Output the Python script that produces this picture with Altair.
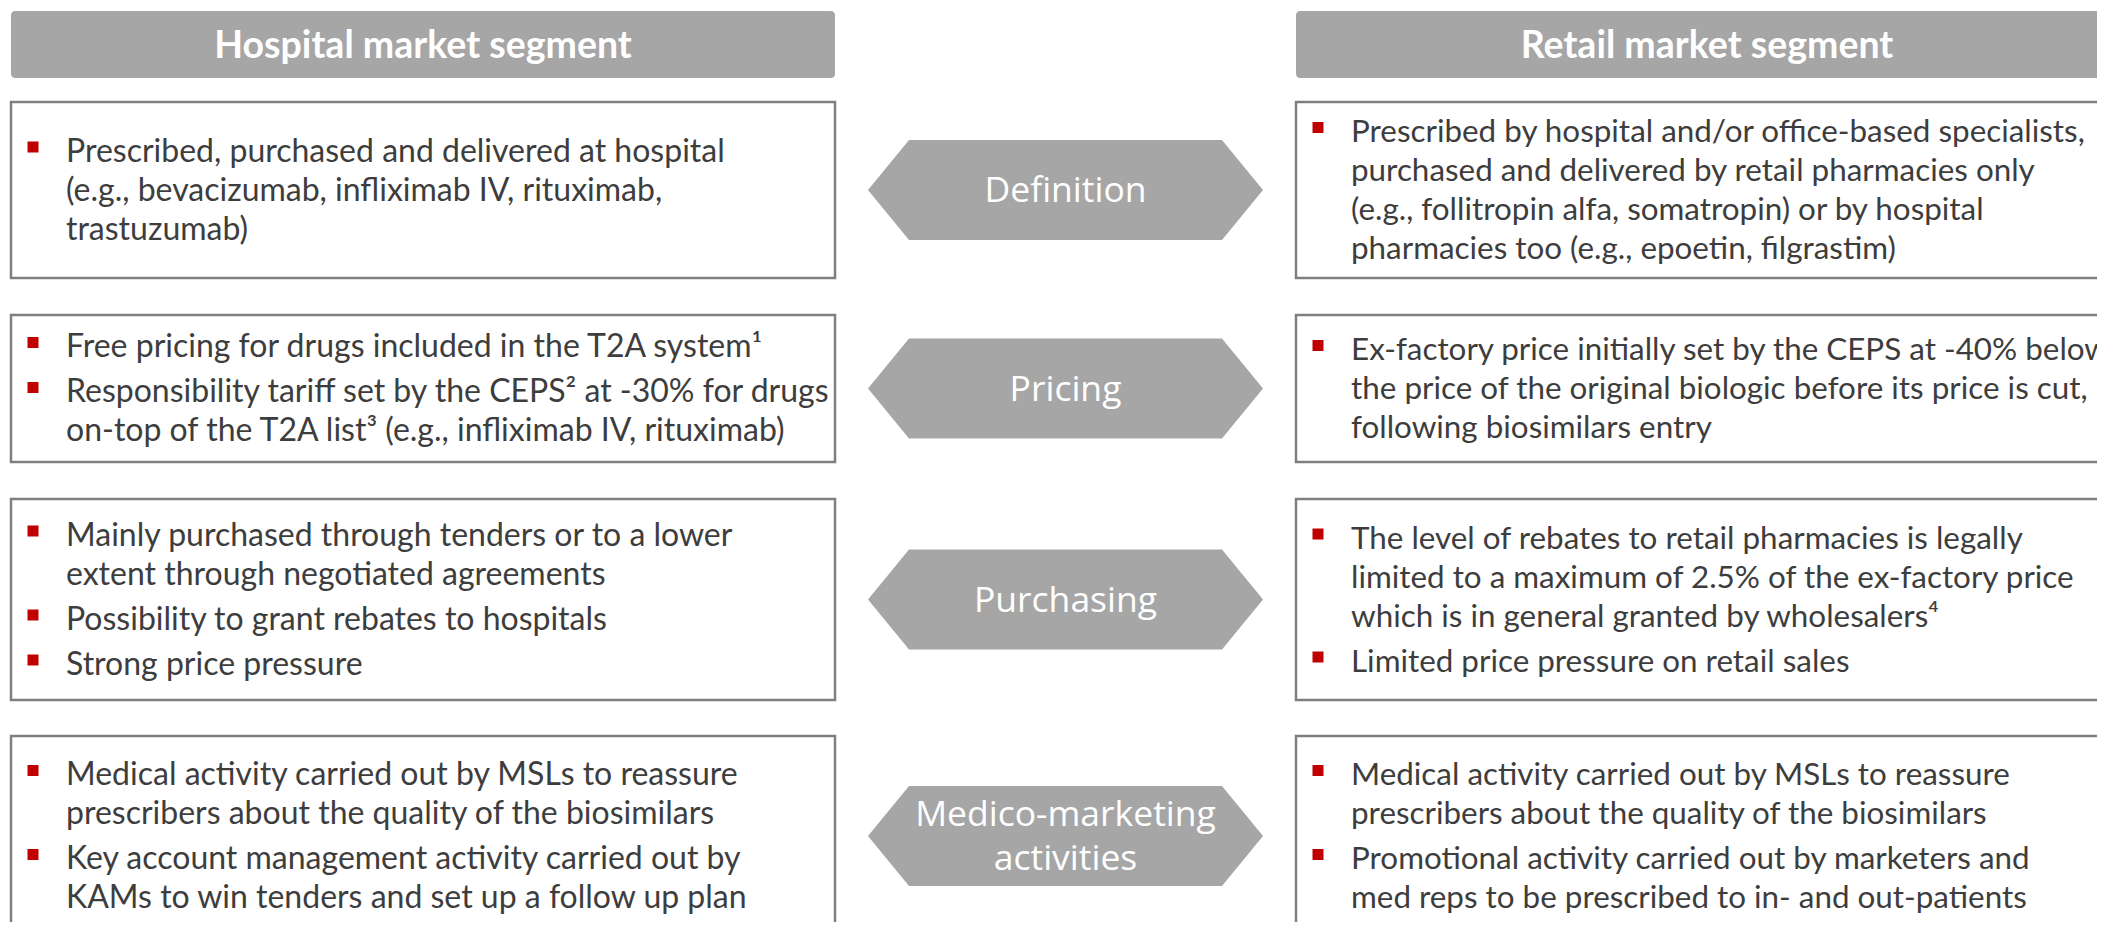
import altair as alt
import pandas as pd

# ---------------- content ----------------
headers = ["Hospital market segment", "Retail market segment"]
dimensions = [["Definition"], ["Pricing"], ["Purchasing"], ["Medico-marketing", "activities"]]

hospital = [
    [["Prescribed, purchased and delivered at hospital",
      "(e.g., bevacizumab, infliximab IV, rituximab,",
      "trastuzumab)"]],
    [["Free pricing for drugs included in the T2A system¹"],
     ["Responsibility tariff set by the CEPS² at -30% for drugs",
      "on-top of the T2A list³ (e.g., infliximab IV, rituximab)"]],
    [["Mainly purchased through tenders or to a lower",
      "extent through negotiated agreements"],
     ["Possibility to grant rebates to hospitals"],
     ["Strong price pressure"]],
    [["Medical activity carried out by MSLs to reassure",
      "prescribers about the quality of the biosimilars"],
     ["Key account management activity carried out by",
      "KAMs to win tenders and set up a follow up plan"]],
]

retail = [
    [["Prescribed by hospital and/or office-based specialists,",
      "purchased and delivered by retail pharmacies only",
      "(e.g., follitropin alfa, somatropin) or by hospital",
      "pharmacies too (e.g., epoetin, filgrastim)"]],
    [["Ex-factory price initially set by the CEPS at -40% below",
      "the price of the original biologic before its price is cut,",
      "following biosimilars entry"]],
    [["The level of rebates to retail pharmacies is legally",
      "limited to a maximum of 2.5% of the ex-factory price",
      "which is in general granted by wholesalers⁴"],
     ["Limited price pressure on retail sales"]],
    [["Medical activity carried out by MSLs to reassure",
      "prescribers about the quality of the biosimilars"],
     ["Promotional activity carried out by marketers and",
      "med reps to be prescribed to in- and out-patients"]],
]

# ---------------- layout (page pixel coordinates) ----------------
col_left = [(11, 835), (1296, 2118)]
col_font = [32, 31.4]
header_y = (11, 78)
header_base = 58
row_top = [102, 315, 499, 736]
row_bot = [278, 462, 700, 936]
hex_x = (868, 909, 1222, 1263)
hex_half = 50
LS, GAP, CAPH = 39, 6, 21
TEXT_OFF, BUL_OFF, BUL = 55, 22, 11

GREY = "#A6A6A6"
BORDER = "#7F7F7F"
TXT = "#3D3D3D"
RED = "#C00000"
BODY_FONT = "Lato"

header_rows, box_rows, bullet_rows, text_rows, hex_rows, hexlab_rows = [], [], [], [], [], []

for ci, (x0, x1) in enumerate(col_left):
    header_rows.append(dict(x=x0, x2=x1, y=header_y[0], y2=header_y[1],
                            tx=(x0 + x1) / 2, ty=header_base, label=headers[ci]))
    content = hospital if ci == 0 else retail
    for ri in range(4):
        box_rows.append(dict(x=x0, x2=x1, y=row_top[ri], y2=row_bot[ri]))
        paras = content[ri]
        nlines = sum(len(p) for p in paras)
        block = CAPH + (nlines - 1) * LS + (len(paras) - 1) * GAP
        center = (row_top[ri] + row_bot[ri]) / 2
        base = center - block / 2 + CAPH
        for pi, para in enumerate(paras):
            bullet_rows.append(dict(x=x0 + BUL_OFF - BUL / 2, x2=x0 + BUL_OFF + BUL / 2,
                                    y=base - 20, y2=base - 20 + BUL))
            for li, line in enumerate(para):
                text_rows.append(dict(x=x0 + TEXT_OFF, y=base, label=line, fs=col_font[ci]))
                if li < len(para) - 1:
                    base += LS
            base += LS + GAP

for ri, lab in enumerate(dimensions):
    c = (row_top[ri] + row_bot[ri]) / 2
    tops = [c, c - hex_half, c - hex_half, c]
    bots = [c, c + hex_half, c + hex_half, c]
    for xv, t, b in zip(hex_x, tops, bots):
        hex_rows.append(dict(hid=str(ri), x=xv, y=t, y2=b))
    cx = (hex_x[0] + hex_x[3]) / 2
    n = len(lab)
    for li, line in enumerate(lab):
        yy = c + 12 + (li - (n - 1) / 2) * 44
        hexlab_rows.append(dict(x=cx, y=yy, label=line))

# ---------------- scales ----------------
W, H = 2089, 914
xs_ = alt.Scale(domain=[8, 8 + W], nice=False, zero=False)
ys_ = alt.Scale(domain=[8, 8 + H], nice=False, zero=False, reverse=True)
X = lambda f="x": alt.X(f"{f}:Q", scale=xs_, axis=None)
Y = lambda f="y": alt.Y(f"{f}:Q", scale=ys_, axis=None)

headers_layer = alt.Chart(pd.DataFrame(header_rows)).mark_rect(
    color=GREY, cornerRadius=4, clip=True
).encode(x=X(), x2="x2:Q", y=Y(), y2="y2:Q")

header_text = alt.Chart(pd.DataFrame(header_rows)).mark_text(
    font=BODY_FONT, fontSize=37.5, fontWeight="bold", color="white",
    align="center", baseline="alphabetic"
).encode(x=X("tx"), y=Y("ty"), text="label:N")

boxes = alt.Chart(pd.DataFrame(box_rows)).mark_rect(
    fill="white", stroke=BORDER, strokeWidth=2.5, clip=True
).encode(x=X(), x2="x2:Q", y=Y(), y2="y2:Q")

bullets = alt.Chart(pd.DataFrame(bullet_rows)).mark_rect(color=RED).encode(
    x=X(), x2="x2:Q", y=Y(), y2="y2:Q")

texts = alt.Chart(pd.DataFrame(text_rows)).mark_text(
    font=BODY_FONT, color=TXT, align="left", baseline="alphabetic"
).encode(x=X(), y=Y(), text="label:N",
         size=alt.Size("fs:Q", scale=None, legend=None))

hexes = alt.Chart(pd.DataFrame(hex_rows)).mark_area(
    color=GREY, opacity=1, interpolate="linear"
).encode(x=X(), y=Y(), y2="y2:Q", detail="hid:N")

hex_labels = alt.Chart(pd.DataFrame(hexlab_rows)).mark_text(
    font="Open Sans", fontSize=35.5, color="white", align="center", baseline="alphabetic"
).encode(x=X(), y=Y(), text="label:N")

chart = alt.layer(
    headers_layer, header_text, boxes, bullets, texts, hexes, hex_labels
).properties(
    width=W, height=H, padding=0, autosize="none", background="white"
).configure_view(stroke=None)

chart.save("out.html", embed_options={"renderer": "svg", "actions": False})
